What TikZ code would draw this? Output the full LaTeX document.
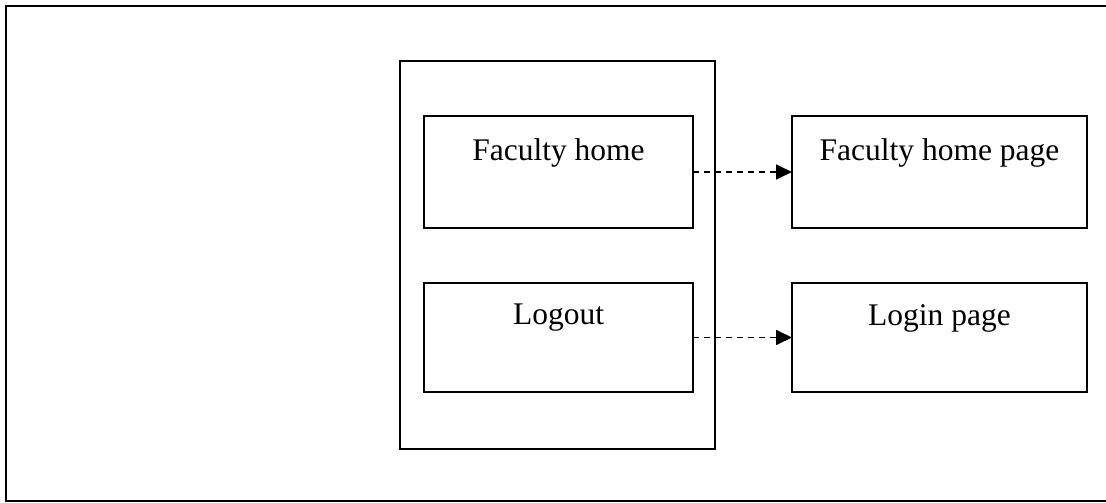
\documentclass[tikz,border=0pt]{standalone}
\usepackage{fontspec}
\setmainfont{Liberation Serif}
\usetikzlibrary{arrows.meta,calc}
\begin{document}
\begin{tikzpicture}[x=1pt,y=-1pt,
  frame/.style={line width=2pt},
  box/.style={draw, line width=1.8pt, inner sep=0pt, outer sep=0pt},
  lbl/.style={anchor=base, inner sep=0pt, font=\fontsize{31.5}{36}\selectfont},
  link/.style={line width=1.8pt, dash pattern=on 6pt off 5pt, -{Triangle[length=16pt,width=15pt]}}]
\useasboundingbox (0,0) rectangle (1106,503);
\coordinate (ftr) at (1106,6);
\coordinate (ftl) at (6,6);
\coordinate (fbl) at (6,501);
\coordinate (fbr) at (1106,501);
\draw[frame] (ftr) -- (ftl) -- (fbl) -- (fbr);
\node[box, minimum width=315pt, minimum height=388pt] (panel) at (557.5,255) {};
\node[box, minimum width=269pt, minimum height=112pt] (fh) at (558.5,172) {};
\node[box, minimum width=269pt, minimum height=109pt] (lo) at (558.5,337.5) {};
\node[box, minimum width=295pt, minimum height=112pt] (fhp) at (939.5,172) {};
\node[box, minimum width=295pt, minimum height=109pt] (lp) at (939.5,337.5) {};
\node[lbl] (tfh) at ($(fh.north)+(0,44)$) {Faculty home};
\node[lbl] (tlo) at ($(lo.north)+(0,41)$) {Logout};
\node[lbl] (tfhp) at ($(fhp.north)+(0,44)$) {Faculty home page};
\node[lbl] (tlp) at ($(lp.north)+(0,42)$) {Login page};
\draw[link] (fh.east) -- (fhp.west);
\draw[link] (lo.east) -- (lp.west);
\end{tikzpicture}
\end{document}
